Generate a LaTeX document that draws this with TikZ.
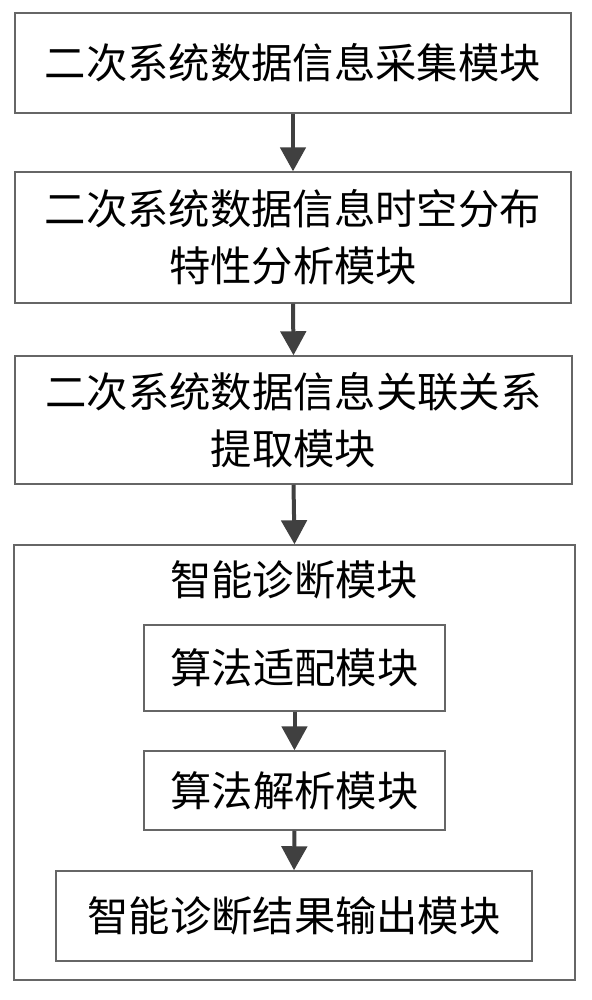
\documentclass[tikz,border=0pt]{standalone}
\usepackage{fontspec}
\newfontfamily\cjk{Noto Sans CJK SC}
\usetikzlibrary{arrows.meta}
\begin{document}
\begin{tikzpicture}[x=0.75pt,y=-0.75pt,
  modbox/.style={draw=black!60,line width=1.1pt,inner sep=0pt,align=center,
    font=\cjk\fontsize{31}{42.75}\selectfont},
  flowarrow/.style={draw=black!75,line width=3pt,-{Triangle[width=19pt,length=18pt]}},
  titletext/.style={inner sep=0pt,font=\cjk\fontsize{31}{42.75}\selectfont}]
\useasboundingbox (0,0) rectangle (592,1000);
\fill[white] (0,0) rectangle (592,1000);
\node[modbox,minimum width=556*0.75pt,minimum height=100*0.75pt] (b1) at (293,63) {二次系统数据信息采集模块};
\node[modbox,minimum width=556*0.75pt,minimum height=131*0.75pt] (b2) at (293,237.5) {二次系统数据信息时空分布\\特性分析模块};
\node[modbox,minimum width=557*0.75pt,minimum height=128*0.75pt] (b3) at (293.5,420) {二次系统数据信息关联关系\\提取模块};
\node[draw=black!60,line width=1.1pt,minimum width=561*0.75pt,minimum height=435*0.75pt,inner sep=0pt] (b4) at (294.5,762.5) {};
\node[titletext] (t4) at (294,580) {智能诊断模块};
\node[modbox,minimum width=301*0.75pt,minimum height=86*0.75pt] (i1) at (294.5,668) {算法适配模块};
\node[modbox,minimum width=301*0.75pt,minimum height=79*0.75pt] (i2) at (294.5,790.5) {算法解析模块};
\node[modbox,minimum width=476*0.75pt,minimum height=90*0.75pt] (i3) at (294,916) {智能诊断结果输出模块};
\draw[flowarrow] (b1.south) -- (b2.north);
\draw[flowarrow] (b2.south) -- (b3.north);
\draw[flowarrow] (b3.south) -- (b4.north);
\draw[flowarrow] (i1.south) -- (i2.north);
\draw[flowarrow] (i2.south) -- (i3.north);
\end{tikzpicture}
\end{document}
